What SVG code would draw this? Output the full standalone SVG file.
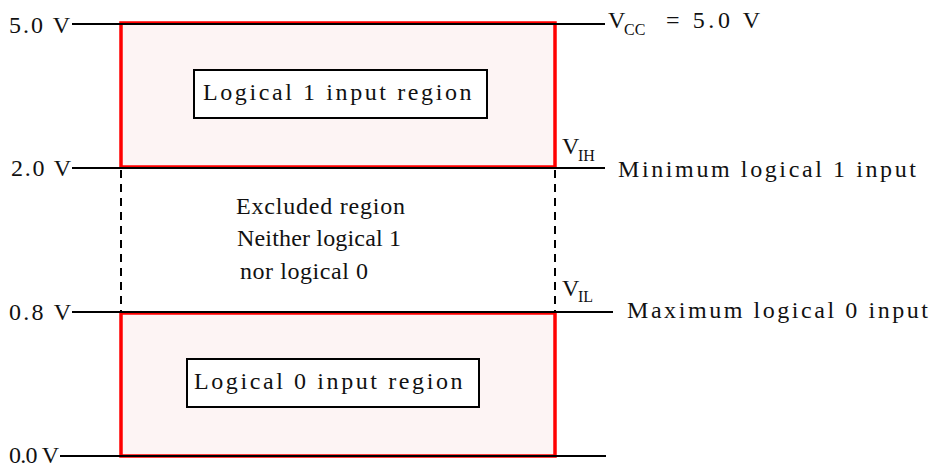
<svg xmlns="http://www.w3.org/2000/svg" width="933" height="468" viewBox="0 0 933 468">
<defs>
<style>
  .region { fill: #fdf4f4; stroke: #ff0000; stroke-width: 3.5; }
  .level { stroke: #000; stroke-width: 2; fill: none; }
  .dash { stroke: #000; stroke-width: 2; stroke-dasharray: 8 6; fill: none; }
  .label { fill: #fff; stroke: #000; stroke-width: 2; }
  .t { font-family: 'Liberation Serif', serif; font-size: 24px; fill: #111; }
  .s { font-family: 'Liberation Serif', serif; font-size: 16px; fill: #111; }
</style>
</defs>
<rect width="933" height="468" fill="#fff"/>
<g id="region-high">
  <rect class="region" x="121" y="23" width="434" height="144"/>
  <rect class="label" x="194" y="70" width="293" height="48"/>
  <text class="t" x="203" y="100" letter-spacing="2.6">Logical 1 input region</text>
</g>
<g id="region-low">
  <rect class="region" x="121" y="313" width="434" height="143"/>
  <rect class="label" x="187" y="359" width="292" height="48"/>
  <text class="t" x="194" y="389" letter-spacing="2.6">Logical 0 input region</text>
</g>
<g id="connectors">
  <line class="level" x1="72" y1="24" x2="605" y2="24"/>
  <line class="level" x1="72" y1="168" x2="605" y2="168"/>
  <line class="level" x1="72" y1="312" x2="613" y2="312"/>
  <line class="level" x1="60" y1="456" x2="606" y2="456"/>
  <line class="dash" x1="121" y1="170" x2="121" y2="312"/>
  <line class="dash" x1="555" y1="170" x2="555" y2="312"/>
</g>
<g id="axis-labels">
  <text class="t" x="9" y="33" textLength="61" lengthAdjust="spacing">5.0 V</text>
  <text class="t" x="11" y="176" textLength="60" lengthAdjust="spacing">2.0 V</text>
  <text class="t" x="9" y="320" textLength="62" lengthAdjust="spacing">0.8 V</text>
  <text class="t" x="9" y="463" textLength="50" lengthAdjust="spacing">0.0 V</text>
</g>
<g id="excluded">
  <text class="t" x="236" y="214" textLength="169" lengthAdjust="spacing">Excluded region</text>
  <text class="t" x="237" y="246" textLength="164" lengthAdjust="spacing">Neither logical 1</text>
  <text class="t" x="240" y="279" textLength="128" lengthAdjust="spacing">nor logical 0</text>
</g>
<g id="vcc">
  <text class="t" x="608" y="28">V</text>
  <text class="s" x="624" y="35">CC</text>
  <text class="t" x="666" y="28" textLength="94" lengthAdjust="spacing">=  5.0 V</text>
</g>
<g id="vih">
  <text class="t" x="562" y="154">V</text>
  <text class="s" x="578" y="161">IH</text>
  <text class="t" x="618" y="177" textLength="298" lengthAdjust="spacing">Minimum logical 1 input</text>
</g>
<g id="vil">
  <text class="t" x="562" y="296">V</text>
  <text class="s" x="578" y="302">IL</text>
  <text class="t" x="627" y="318" textLength="301" lengthAdjust="spacing">Maximum logical 0 input</text>
</g>
</svg>
